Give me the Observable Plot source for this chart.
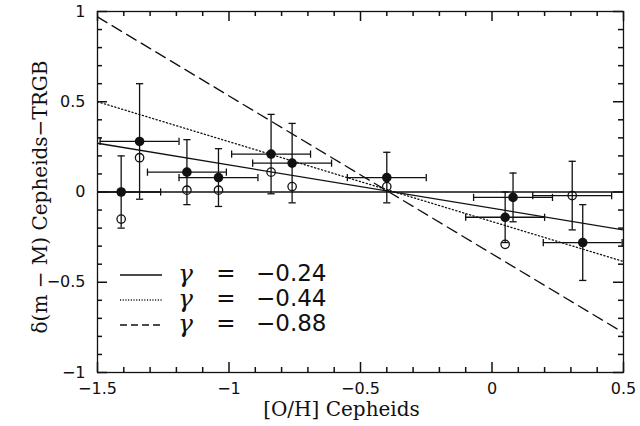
<!DOCTYPE html>
<html><head><meta charset="utf-8">
<script src="https://cdn.jsdelivr.net/npm/d3@7"></script>
<script src="https://cdn.jsdelivr.net/npm/@observablehq/plot@0.6"></script>
<style>body{margin:0;background:#fff}#chart{width:640px;height:426px}</style>
</head><body><div id="chart"></div>
<script>
// Filled circles (with error bars)
const filledX    = [-1.41, -1.34, -1.16, -1.04, -0.84, -0.76, -0.40, 0.08, 0.05, 0.345];
const filledY    = [0.00, 0.28, 0.11, 0.08, 0.21, 0.16, 0.08, -0.03, -0.14, -0.28];
const filledXErr = [0.15, 0.15, 0.15, 0.15, 0.15, 0.15, 0.15, 0.15, 0.15, 0.15];
const filledYErr = [0.20, 0.32, 0.18, 0.16, 0.22, 0.22, 0.14, 0.135, 0.14, 0.21];
// Open circles (only the last one carries its own error bars)
const openX    = [-1.41, -1.34, -1.16, -1.04, -0.84, -0.76, -0.40, 0.05, 0.305];
const openY    = [-0.15, 0.19, 0.01, 0.01, 0.11, 0.03, 0.03, -0.29, -0.02];
const openXErr = [0, 0, 0, 0, 0, 0, 0, 0, 0.15];
const openYErr = [0, 0, 0, 0, 0, 0, 0, 0, 0.19];
// Fitted relations (end points)
const fitX      = [-1.5, 0.5];
const fitSolid  = [0.27, -0.21];
const fitDotted = [0.50, -0.385];
const fitDashed = [0.97, -0.78];
const gammaLabels = ["\u22120.24", "\u22120.44", "\u22120.88"];
// Axes
const xDomain = [-1.5, 0.5];
const yDomain = [-1, 1];
const xMajor = [-1.5, -1, -0.5, 0, 0.5];
const xTickLabels = ["\u22121.5", "\u22121", "\u22120.5", "0", "0.5"];
const yMajor = [-1, -0.5, 0, 0.5, 1];
const yTickLabels = ["\u22121", "\u22120.5", "0", "0.5", "1"];
const xMinor = [-1.4, -1.3, -1.2, -1.1, -0.9, -0.8, -0.7, -0.6, -0.4, -0.3, -0.2, -0.1, 0.1, 0.2, 0.3, 0.4];
const yMinor = [-0.9, -0.8, -0.7, -0.6, -0.4, -0.3, -0.2, -0.1, 0.1, 0.2, 0.3, 0.4, 0.6, 0.7, 0.8, 0.9];
const xTitle = "[O/H] Cepheids";
const yTitle = "\u03b4(m \u2212 M) Cepheids\u2212TRGB";

const ink = "#111";
const filled = filledX.map((x, i) => ({x, y: filledY[i], ex: filledXErr[i], ey: filledYErr[i]}));
const open = openX.map((x, i) => ({x, y: openY[i], ex: openXErr[i], ey: openYErr[i]}));
const bars = filled.concat(open.filter(d => d.ex > 0));
const fitLine = ys => fitX.map((x, i) => ({x, y: ys[i]}));

const hCap = {draw(ctx, size) { const r = Math.sqrt(size / Math.PI); ctx.moveTo(-r, 0); ctx.lineTo(r, 0); }};
const vCap = {draw(ctx, size) { const r = Math.sqrt(size / Math.PI); ctx.moveTo(0, -r); ctx.lineTo(0, r); }};
const capR = 3.6, barW = 1.3;

const W = 640, H = 426, mL = 97, mR = 17, mT = 11, mB = 54;
const fw = W - mL - mR, fh = H - mT - mB;
const majorLen = 10, minorLen = 5, tickW = 1.5;
// tick length in pixels converted to data units along each axis
const xSpan = xDomain[1] - xDomain[0], ySpan = yDomain[1] - yDomain[0];
const yLen = px => px / fh * ySpan, xLen = px => px / fw * xSpan;

const xTicks = [...xMinor.map(v => ({v, l: minorLen})), ...xMajor.map(v => ({v, l: majorLen}))];
const yTicks = [...yMinor.map(v => ({v, l: minorLen})), ...yMajor.map(v => ({v, l: majorLen}))];

const tickMarks = [
  Plot.ruleX(xTicks, {x: "v", y1: yDomain[0], y2: d => yDomain[0] + yLen(d.l), stroke: ink, strokeWidth: tickW}),
  Plot.ruleX(xTicks, {x: "v", y1: yDomain[1], y2: d => yDomain[1] - yLen(d.l), stroke: ink, strokeWidth: tickW}),
  Plot.ruleY(yTicks, {y: "v", x1: xDomain[0], x2: d => xDomain[0] + xLen(d.l), stroke: ink, strokeWidth: tickW}),
  Plot.ruleY(yTicks, {y: "v", x1: xDomain[1], x2: d => xDomain[1] - xLen(d.l), stroke: ink, strokeWidth: tickW})
];

const plot = Plot.plot({
  width: W, height: H,
  marginLeft: mL, marginRight: mR, marginTop: mT, marginBottom: mB,
  x: {domain: xDomain},
  y: {domain: yDomain},
  style: {fontFamily: "DejaVu Sans", fontSize: "16px", color: ink, background: "white"},
  marks: [
    Plot.ruleY([0], {stroke: ink, strokeWidth: 1.5}),
    Plot.line(fitLine(fitSolid), {x: "x", y: "y", stroke: ink, strokeWidth: 1.3, clip: true}),
    Plot.line(fitLine(fitDotted), {x: "x", y: "y", stroke: ink, strokeWidth: 1.3, strokeDasharray: "1.2,2.4", clip: true}),
    Plot.line(fitLine(fitDashed), {x: "x", y: "y", stroke: ink, strokeWidth: 1.3, strokeDasharray: "11,6", clip: true}),
    // error bars
    Plot.ruleX(bars, {x: "x", y1: d => d.y - d.ey, y2: d => d.y + d.ey, stroke: ink, strokeWidth: barW, clip: true}),
    Plot.ruleY(bars, {y: "y", x1: d => d.x - d.ex, x2: d => d.x + d.ex, stroke: ink, strokeWidth: barW, clip: true}),
    Plot.dot(bars.flatMap(d => [{x: d.x, y: d.y - d.ey}, {x: d.x, y: d.y + d.ey}]),
      {x: "x", y: "y", symbol: hCap, r: capR, stroke: ink, strokeWidth: barW, fill: "none", clip: true}),
    Plot.dot(bars.flatMap(d => [{x: d.x - d.ex, y: d.y}, {x: d.x + d.ex, y: d.y}]),
      {x: "x", y: "y", symbol: vCap, r: capR, stroke: ink, strokeWidth: barW, fill: "none", clip: true}),
    // points
    Plot.dot(open, {x: "x", y: "y", r: 4.2, stroke: ink, strokeWidth: 1.3, fill: "none"}),
    Plot.dot(filled, {x: "x", y: "y", r: 4.8, fill: ink, stroke: "none"}),
    // frame + inward ticks
    ...tickMarks,
    Plot.frame({stroke: ink, strokeWidth: 1.3}),
    Plot.axisX({anchor: "bottom", ticks: xMajor, tickSize: 0, tickPadding: 10, fontSize: 16,
      tickFormat: d => xTickLabels[xMajor.indexOf(d)], label: null}),
    Plot.axisY({anchor: "left", ticks: yMajor, tickSize: 0, tickPadding: 12, fontSize: 16,
      tickFormat: d => yTickLabels[yMajor.indexOf(d)], label: null}),
    Plot.text([xTitle], {frameAnchor: "bottom", dy: 37, dx: -19, textAnchor: "middle", lineAnchor: "middle",
      fontFamily: "DejaVu Serif", fontSize: 20, fill: ink}),
    Plot.text([yTitle], {frameAnchor: "left", dx: -57, dy: 5, rotate: -90, textAnchor: "middle", lineAnchor: "middle",
      fontFamily: "DejaVu Serif", fontSize: 20, fill: ink})
  ]
});
document.getElementById("chart").append(plot);

// Legend (inside the frame, lower left)
const svg = d3.select(plot);
const styles = [null, "1.1,1.6", "7,4"];
const rowY = [273, 298, 323];
const lg = svg.append("g").attr("fill", ink).attr("text-anchor", "start");
gammaLabels.forEach((lab, i) => {
  const y = rowY[i];
  lg.append("line").attr("x1", 120).attr("x2", 162).attr("y1", y + 2).attr("y2", y + 2)
    .attr("stroke", ink).attr("stroke-width", 1.3).attr("stroke-dasharray", styles[i]);
  lg.append("text").attr("x", 178).attr("y", y).attr("dy", "0.35em")
    .attr("font-family", "DejaVu Serif").attr("font-style", "italic").attr("font-size", 25).text("\u03b3");
  lg.append("text").attr("x", 226).attr("y", y).attr("dy", "0.35em").attr("text-anchor", "middle")
    .attr("font-family", "DejaVu Sans").attr("font-size", 23).text("=");
  lg.append("text").attr("x", 256).attr("y", y).attr("dy", "0.35em")
    .attr("font-family", "DejaVu Sans").attr("font-size", 23).text(lab);
});
</script>
</body></html>
